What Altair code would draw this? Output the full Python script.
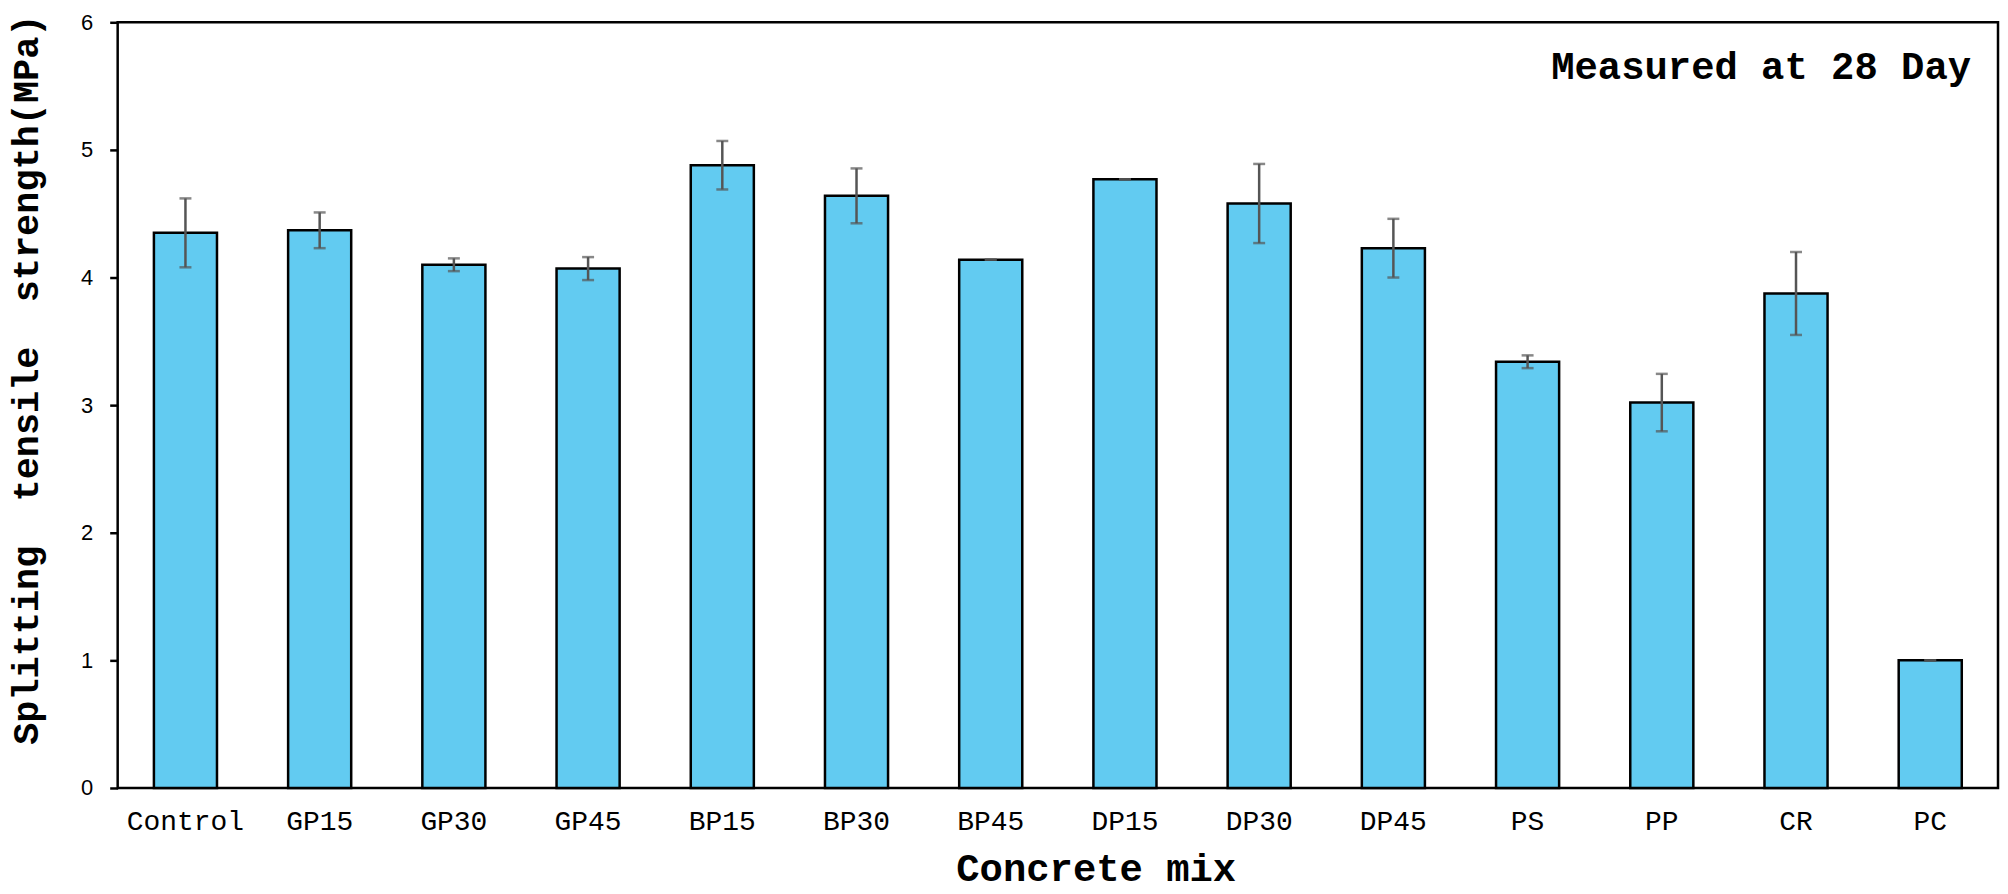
import altair as alt
import pandas as pd

mixes = ["Control", "GP15", "GP30", "GP45", "BP15", "BP30", "BP45",
         "DP15", "DP30", "DP45", "PS", "PP", "CR", "PC"]
strength = [4.35, 4.37, 4.10, 4.07, 4.88, 4.64, 4.14,
            4.77, 4.58, 4.23, 3.34, 3.02, 3.875, 1.00]
sd = [0.27, 0.14, 0.05, 0.09, 0.19, 0.215, 0.0,
      0.0, 0.31, 0.23, 0.05, 0.225, 0.325, 0.0]
y_ticks = [0, 1, 2, 3, 4, 5, 6]
note = "Measured at 28 Day"
y_title = "Splitting\u00a0\u00a0tensile\u00a0\u00a0strength(MPa)"

df = pd.DataFrame({"mix": mixes, "strength": strength, "sd": sd})

MONO = "Liberation Mono"
SANS = "Liberation Sans"

x_enc = alt.X(
    "mix:N", sort=mixes,
    scale=alt.Scale(paddingInner=0.53, paddingOuter=0.27),
    axis=alt.Axis(
        title="Concrete mix", labelFont=MONO, labelFontSize=28, labelColor="black",
        labelAngle=0, ticks=False, labelPadding=20, domain=False,
        titleFont=MONO, titleFontSize=39, titleFontWeight="bold", titleColor="black",
        titleX=981, titleY=93, titleAlign="center", titleBaseline="alphabetic",
    ),
)
y_scale = alt.Scale(domain=[0, 6], nice=False, zero=True)

base = alt.Chart(df)

bars = base.mark_bar(color="#62CBF1", stroke="black", strokeWidth=2.5).encode(
    x=x_enc,
    y=alt.Y(
        "strength:Q", scale=y_scale,
        axis=alt.Axis(
            values=y_ticks, format="d", title=y_title,
            grid=False,
            labelFont=SANS, labelFontSize=22, labelColor="black", labelPadding=17,
            tickSize=8, tickColor="black", tickWidth=2.5, domain=False,
            titleFont=MONO, titleFontSize=37, titleFontWeight="bold", titleColor="black",
            titleX=-80, titleY=358, titleAngle=270, titleAlign="center",
            titleBaseline="alphabetic",
        ),
    ),
)

err = base.transform_calculate(
    lo="datum.strength - datum.sd", hi="datum.strength + datum.sd"
)
rules = err.mark_rule(color="#555555", strokeWidth=2.5).encode(
    x=alt.X("mix:N", sort=mixes),
    y=alt.Y("lo:Q", scale=y_scale),
    y2="hi:Q",
)
caps_hi = err.mark_tick(color="#555555", thickness=2.5, size=12, orient="horizontal").encode(
    x=alt.X("mix:N", sort=mixes), y=alt.Y("hi:Q", scale=y_scale)
)
caps_lo = err.mark_tick(color="#555555", thickness=2.5, size=12, orient="horizontal").encode(
    x=alt.X("mix:N", sort=mixes), y=alt.Y("lo:Q", scale=y_scale)
)

label = alt.Chart(pd.DataFrame({"t": [note]})).mark_text(
    font=MONO, fontSize=39, fontWeight="bold", color="black", align="right",
    baseline="alphabetic",
).encode(text="t:N", x=alt.value(1859), y=alt.value(57))

chart = alt.layer(bars, rules, caps_hi, caps_lo, label).properties(
    width=1886, height=768,
    autosize=alt.AutoSizeParams(type="none"),
    padding={"left": 110, "top": 13, "right": 2, "bottom": 104},
    background="white",
).configure_view(stroke="black", strokeWidth=2.5)

chart.save("out.html", embed_options={"renderer": "svg", "actions": False})
